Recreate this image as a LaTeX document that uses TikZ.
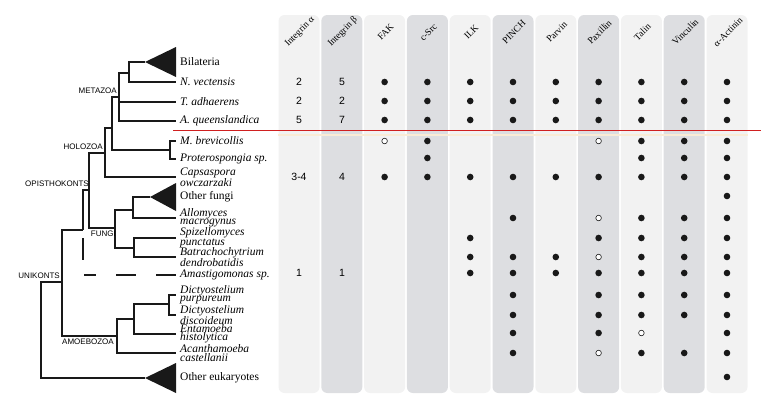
\documentclass[tikz,border=0pt]{standalone}
\usepackage{fontspec}
\setmainfont{Liberation Serif}
\setsansfont{Liberation Sans}
\usepackage{tikz}
\usepackage{xcolor}

\definecolor{collight}{RGB}{242,242,242}
\definecolor{coldark}{RGB}{221,222,225}
\definecolor{cutred}{RGB}{208,32,32}
\definecolor{cutpale}{RGB}{250,236,214}

\begin{document}
\begin{tikzpicture}[x=1pt, y=-1pt,
    branch/.style={line width=2.4pt, black!90},
    taxon/.style={anchor=west, inner xsep=4pt, inner ysep=0pt, align=left, font=\itshape\fontsize{11.5}{8.3}\selectfont},
    clade/.style={taxon, font=\fontsize{11.5}{8.3}\selectfont},
    group/.style={font=\sffamily\fontsize{8}{8}\selectfont, inner sep=1pt},
    count/.style={font=\sffamily\fontsize{10.5}{10.5}\selectfont},
    head/.style={rotate=45, font=\fontsize{9.5}{9.5}\selectfont, inner sep=0pt}]
    \useasboundingbox (0,0) rectangle (761,400);

    % Protein columns
    \foreach \i in {1,...,11} {
        \pgfmathsetmacro\cx{256.2+42.8*\i}
        \ifodd\i \def\colfill{collight}\else\def\colfill{coldark}\fi
        \fill[\colfill, rounded corners=6pt] (\cx-20.5,15) rectangle (\cx+20.5,393);
    }
    \foreach \i/\hd in {1/Integrin α, 2/Integrin β, 3/FAK, 4/c-Src, 5/ILK, 6/PINCH, 7/Parvin, 8/Paxillin, 9/Talin, 10/Vinculin, 11/α-Actinin}
        \node[head] (hd\i) at (257.2+42.8*\i, 32) {\hd};

    % Metazoa cut
    \draw[cutpale, line width=1.2pt] (278,135) -- (748,135);
    \draw[cutred, line width=1pt] (173,130) -- (761,130);

    % Inner nodes of the tree
    \coordinate (root) at (41,330);
    \coordinate (unik) at (62,282);
    \coordinate (opam) at (83,230);
    \coordinate (opis) at (89,190);
    \coordinate (holo) at (105,153);
    \coordinate (mc) at (112,128);
    \coordinate (meta) at (119,97);
    \coordinate (bn) at (129,73);
    \coordinate (choa) at (170,150);
    \coordinate (fung) at (115,228);
    \coordinate (fa) at (133,210);
    \coordinate (fb) at (134,248);
    \coordinate (amoe) at (117,336);
    \coordinate (am1) at (134,319);
    \coordinate (am2) at (169,304);
    \coordinate (bilapex) at (145,62);
    \coordinate (ofunapex) at (150,197);
    \coordinate (oeukapex) at (145,378);

    % Taxa
    \node[clade] (bila) at (176,62) {Bilateria};
    \node[taxon] (nvec) at (176,82) {N. vectensis};
    \node[taxon] (tadh) at (176,102) {T. adhaerens};
    \node[taxon] (aque) at (176,121) {A. queenslandica};
    \node[taxon] (mbre) at (176,141) {M. brevicollis};
    \node[taxon] (prot) at (176,159) {Proterospongia sp.};
    \node[taxon] (caps) at (176,177) {Capsaspora\\owczarzaki};
    \node[clade] (ofun) at (176,197) {Other fungi};
    \node[taxon] (allo) at (176,218) {Allomyces\\macrogynus};
    \node[taxon] (spiz) at (176,238) {Spizellomyces\\punctatus};
    \node[taxon] (batr) at (176,257) {Batrachochytrium\\dendrobatidis};
    \node[taxon] (amas) at (176,275) {Amastigomonas sp.};
    \node[taxon] (dpur) at (176,295) {Dictyostelium\\purpureum};
    \node[taxon] (ddis) at (176,315) {Dictyostelium\\discoideum};
    \node[taxon] (enta) at (176,334) {Entamoeba\\histolytica};
    \node[taxon] (acan) at (176,353) {Acanthamoeba\\castellanii};
    \node[clade] (oeuk) at (176,378) {Other eukaryotes};

    % Collapsed clades
    \fill[black!90] (bilapex) -- ++(31,-15) -- ++(0,30) -- cycle;
    \fill[black!90] (ofunapex) -- ++(26,-14) -- ++(0,28) -- cycle;
    \fill[black!90] (oeukapex) -- ++(31,-15) -- ++(0,30) -- cycle;

    % Branches
    \draw[branch] (root) |- (unik) (root) |- (oeukapex);
    \draw[branch] (unik) |- (opam) (unik) |- (amoe);
    \draw[branch] (opam) |- (opis);
    \draw[branch, dash pattern=on 0pt off 8pt on 22pt off 16pt on 12pt off 20pt on 20pt off 20pt on 30pt] (opam) |- (amas.west);
    \draw[branch] (opis) |- (holo) (opis) |- (fung);
    \draw[branch] (holo) |- (mc) (holo) |- (caps.west);
    \draw[branch] (mc) |- (meta) (mc) |- (choa);
    \draw[branch] (meta) |- (bn) (meta) |- (tadh.west) (meta) |- (aque.west);
    \draw[branch] (bn) |- (bilapex) (bn) |- (nvec.west);
    \draw[branch] (choa) |- (mbre.west) (choa) |- (prot.west);
    \draw[branch] (fung) |- (fa) (fung) |- (fb);
    \draw[branch] (fa) |- (ofunapex) (fa) |- (allo.west);
    \draw[branch] (fb) |- (spiz.west) (fb) |- (batr.west);
    \draw[branch] (amoe) |- (am1) (amoe) |- (acan.west);
    \draw[branch] (am1) |- (am2) (am1) |- (enta.west);
    \draw[branch] (am2) |- (dpur.west) (am2) |- (ddis.west);

    % Group names
    \node[group, anchor=south east] (lmeta) at (118,95) {METAZOA};
    \node[group, anchor=south east] (lholo) at (104,151) {HOLOZOA};
    \node[group, anchor=south east] (lopis) at (90,188) {OPISTHOKONTS};
    \node[group, anchor=north east] (lfung) at (117,230) {FUNGI};
    \node[group, anchor=south east] (lunik) at (61,280) {UNIKONTS};
    \node[group, anchor=north west] (lamoe) at (61,338) {AMOEBOZOA};

    % Integrin counts
    \foreach \y/\a/\b [count=\k] in {82/2/5, 101/2/2, 120/5/7, 177/3-4/4, 273/1/1} {
        \node[count] (ia\k) at (299,\y) {\a};
        \node[count] (ib\k) at (342,\y) {\b};
    }

    % Presence (filled) and partial (open) hits
    \foreach \y/\cols in {82/{3,...,11}, 101/{3,...,11}, 120/{3,...,11}, 141/{4,9,10,11}, 158/{4,9,10,11}, 177/{3,...,11}, 196/{11}, 218/{6,9,10,11}, 238/{5,8,9,10,11}, 257/{5,6,7,9,10,11}, 273/{5,...,11}, 295/{6,8,9,10,11}, 315/{6,8,9,10,11}, 333/{6,8,11}, 353/{6,9,10,11}, 377/{11}}
        \foreach \c in \cols
            \fill[black!90] (256.2+42.8*\c, \y) circle (3.3);
    \foreach \c/\y in {3/141, 8/141, 8/218, 8/257, 9/333, 8/353}
        \draw[black!90, line width=0.6pt, fill=white] (256.2+42.8*\c, \y) circle (2.8);
\end{tikzpicture}
\end{document}
